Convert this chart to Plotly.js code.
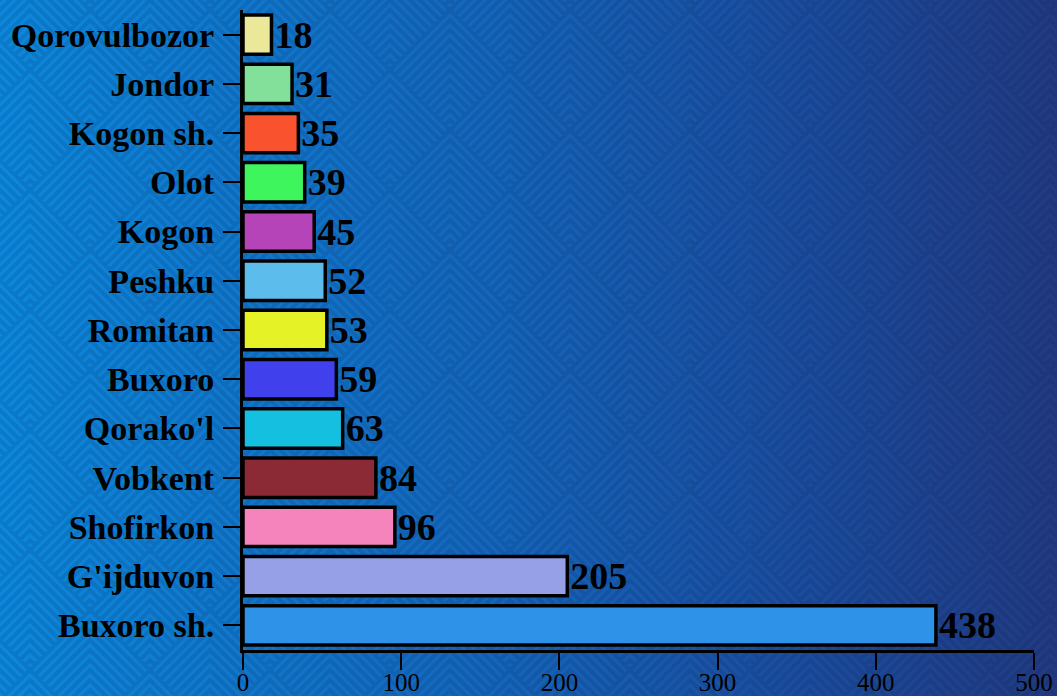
<!DOCTYPE html>
<html>
<head>
<meta charset="utf-8">
<script src="https://cdn.plot.ly/plotly-3.0.1.min.js"></script>
<style>
  html, body { margin: 0; padding: 0; width: 1057px; height: 696px; overflow: hidden; }
  body { background: linear-gradient(to right, #0c88dc 0%, #1467bd 45%, #1b4da0 75%, #223a82 100%); }
  #bg { position: absolute; left: 0; top: 0; width: 1057px; height: 696px; }
  #chart { position: absolute; left: 0; top: 0; width: 1057px; height: 696px; }
</style>
</head>
<body>
<div id="bg"></div>
<div id="chart"></div>
<script>
// Data (bottom to top)
const categories = ["Buxoro sh.", "G'ijduvon", "Shofirkon", "Vobkent", "Qorako'l", "Buxoro", "Romitan", "Peshku", "Kogon", "Olot", "Kogon sh.", "Jondor", "Qorovulbozor"];
const values = [438, 205, 96, 84, 63, 59, 53, 52, 45, 39, 35, 31, 18];
const barColors = ["#2e92e8", "#95a0e6", "#f684bc", "#8b2a35", "#15bfe0", "#4040ec", "#e5f225", "#5cbcec", "#b444b8", "#3ef55e", "#f9522e", "#82e09a", "#ece89a"];
const xTicks = [0, 100, 200, 300, 400, 500];

// Decorative background pattern (nested chevrons inside a diamond lattice)
(function () {
  let paths = "";
  const centers = [[60, 60], [0, 0], [120, 0], [0, 120], [120, 120]];
  centers.forEach(([cx, cy]) => {
    for (let d = 0; d < 120; d += 10) {
      paths += `M${cx - 60 + d / 2},${cy + d / 2} L${cx},${cy - 60 + d} L${cx + 60 - d / 2},${cy + d / 2} `;
    }
  });
  const svg = `<svg xmlns='http://www.w3.org/2000/svg' width='120' height='120'><path d='${paths}' fill='none' stroke='rgba(0,20,60,0.13)' stroke-width='4'/></svg>`;
  const el = document.getElementById('bg');
  el.style.backgroundImage = 'url("data:image/svg+xml;utf8,' + encodeURIComponent(svg) + '")';
  el.style.backgroundPosition = '30px 10px';
})();

const trace = {
  type: 'bar',
  orientation: 'h',
  y: categories,
  x: values,
  text: values.map(String),
  textposition: 'outside',
  cliponaxis: false,
  constraintext: 'none',
  textfont: { family: 'Liberation Serif', size: 38, color: '#000000', weight: 'bold' },
  marker: { color: barColors, line: { color: '#000000', width: 3.5 } },
  hoverinfo: 'none'
};

const layout = {
  width: 1057,
  height: 696,
  margin: { l: 243, r: 23, t: 10, b: 46 },
  paper_bgcolor: 'rgba(0,0,0,0)',
  plot_bgcolor: 'rgba(0,0,0,0)',
  bargap: 0.2,
  showlegend: false,
  xaxis: {
    range: [0, 500],
    tickvals: xTicks,
    ticktext: xTicks.map(String),
    showgrid: false,
    zeroline: false,
    showline: true,
    linecolor: '#000000',
    linewidth: 3,
    ticks: 'outside',
    ticklen: 17,
    tickwidth: 2,
    tickcolor: '#000000',
    ticklabelstandoff: -9,
    tickfont: { family: 'Liberation Serif', size: 25, color: '#000000' },
    fixedrange: true
  },
  yaxis: {
    type: 'category',
    categoryorder: 'array',
    categoryarray: categories,
    range: [-0.5, 12.5],
    showgrid: false,
    zeroline: false,
    showline: true,
    linecolor: '#000000',
    linewidth: 3,
    ticks: 'outside',
    ticklen: 17,
    tickwidth: 2,
    tickcolor: '#000000',
    ticklabelstandoff: 2,
    tickfont: { family: 'Liberation Serif', size: 34, color: '#000000', weight: 'bold' },
    fixedrange: true
  }
};

Plotly.newPlot('chart', [trace], layout, { displayModeBar: false, staticPlot: true });
</script>
</body>
</html>
